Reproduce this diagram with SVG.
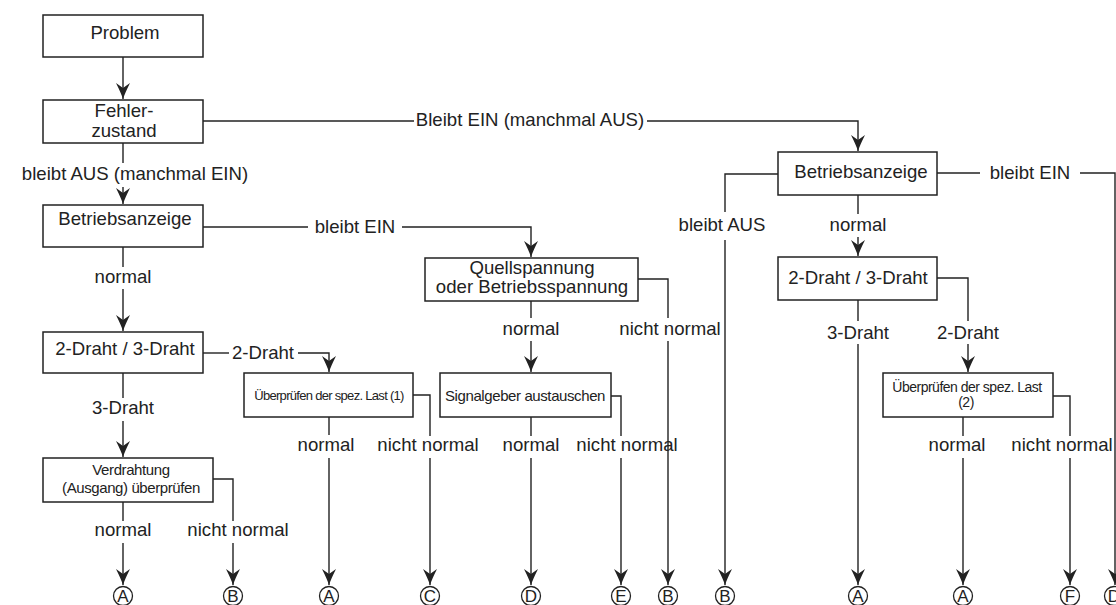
<svg xmlns="http://www.w3.org/2000/svg" width="1116" height="605" viewBox="0 0 1116 605">
<style>
.box{fill:#fff;stroke:#222;stroke-width:1.5}
.ln{fill:none;stroke:#222;stroke-width:1.4}
.t{font-family:"Liberation Sans",Arial,sans-serif;font-size:18.6px;fill:#222;text-anchor:middle}
.s{font-family:"Liberation Sans",Arial,sans-serif;font-size:15px;fill:#222;text-anchor:middle;letter-spacing:-0.4px}
.c{fill:#fff;stroke:#222;stroke-width:1.3}
.ct{font-family:"Liberation Sans",Arial,sans-serif;font-size:17px;fill:#222;text-anchor:middle}
</style>
<defs>
<marker id="ah" viewBox="-16 -7 17 14" refX="0" refY="0" markerWidth="17" markerHeight="14" markerUnits="userSpaceOnUse" orient="auto">
<path d="M0,0 Q-6,-2 -16,-7 L-11,0 L-16,7 Q-6,2 0,0Z" fill="#222"/>
</marker>
</defs>
<rect width="1116" height="605" fill="#fff"/>

<g id="connectors">
<path class="ln" d="M123,57 V99" marker-end="url(#ah)"/>
<path class="ln" d="M123,143 V163"/>
<path class="ln" d="M123,187 V204" marker-end="url(#ah)"/>
<path class="ln" d="M203,121 H414"/>
<path class="ln" d="M647,121 H858 V151" marker-end="url(#ah)"/>
<path class="ln" d="M123,247 V267"/>
<path class="ln" d="M123,289 V331" marker-end="url(#ah)"/>
<path class="ln" d="M203,227 H308"/>
<path class="ln" d="M402,227 H531 V257" marker-end="url(#ah)"/>
<path class="ln" d="M203,353 H229"/>
<path class="ln" d="M298,353 H329 V372" marker-end="url(#ah)"/>
<path class="ln" d="M123,373 V398"/>
<path class="ln" d="M123,421 V457" marker-end="url(#ah)"/>
<path class="ln" d="M123,502 V521"/>
<path class="ln" d="M123,543 V585" marker-end="url(#ah)"/>
<path class="ln" d="M213,479 H233 V521"/>
<path class="ln" d="M233,543 V585" marker-end="url(#ah)"/>
<path class="ln" d="M329,417 V435"/>
<path class="ln" d="M329,458 V585" marker-end="url(#ah)"/>
<path class="ln" d="M413,395 H430 V436"/>
<path class="ln" d="M430,458 V585" marker-end="url(#ah)"/>
<path class="ln" d="M531,301 V318"/>
<path class="ln" d="M531,341 V372" marker-end="url(#ah)"/>
<path class="ln" d="M638,279 H668 V318"/>
<path class="ln" d="M668,341 V585" marker-end="url(#ah)"/>
<path class="ln" d="M531,417 V436"/>
<path class="ln" d="M531,458 V585" marker-end="url(#ah)"/>
<path class="ln" d="M611,396 H621 V436"/>
<path class="ln" d="M621,458 V585" marker-end="url(#ah)"/>
<path class="ln" d="M778,174 H725 V212"/>
<path class="ln" d="M725,240 V585" marker-end="url(#ah)"/>
<path class="ln" d="M858,195 V214"/>
<path class="ln" d="M858,237 V256" marker-end="url(#ah)"/>
<path class="ln" d="M937,173 H980"/>
<path class="ln" d="M1080,173 H1115 V585" marker-end="url(#ah)"/>
<path class="ln" d="M858,300 V321"/>
<path class="ln" d="M858,344 V585" marker-end="url(#ah)"/>
<path class="ln" d="M937,278 H968 V321"/>
<path class="ln" d="M968,344 V372" marker-end="url(#ah)"/>
<path class="ln" d="M963,417 V436"/>
<path class="ln" d="M963,458 V585" marker-end="url(#ah)"/>
<path class="ln" d="M1053,396 H1070 V436"/>
<path class="ln" d="M1070,458 V585" marker-end="url(#ah)"/>
</g>

<g id="labels">
<text class="t" x="135" y="180">bleibt AUS (manchmal EIN)</text>
<text class="t" x="530" y="126">Bleibt EIN (manchmal AUS)</text>
<text class="t" x="123" y="283">normal</text>
<text class="t" x="355" y="233">bleibt EIN</text>
<text class="t" x="263" y="359">2-Draht</text>
<text class="t" x="123" y="414">3-Draht</text>
<text class="t" x="123" y="536">normal</text>
<text class="t" x="238" y="536">nicht normal</text>
<text class="t" x="326" y="451">normal</text>
<text class="t" x="428" y="451">nicht normal</text>
<text class="t" x="531" y="335">normal</text>
<text class="t" x="670" y="335">nicht normal</text>
<text class="t" x="531" y="451">normal</text>
<text class="t" x="627" y="451">nicht normal</text>
<text class="t" x="722" y="231">bleibt AUS</text>
<text class="t" x="858" y="231">normal</text>
<text class="t" x="1030" y="179">bleibt EIN</text>
<text class="t" x="858" y="339">3-Draht</text>
<text class="t" x="968" y="339">2-Draht</text>
<text class="t" x="957" y="451">normal</text>
<text class="t" x="1062" y="451">nicht normal</text>
</g>

<g id="n-problem"><rect class="box" x="43" y="15" width="160" height="42"/><text class="t" x="125" y="39">Problem</text></g>
<g id="n-fehler"><rect class="box" x="43" y="100" width="160" height="43"/><text class="t" x="124" y="117">Fehler-</text><text class="t" x="124" y="136.5">zustand</text></g>
<g id="n-betrieb1"><rect class="box" x="43" y="205" width="160" height="42"/><text class="t" x="125" y="225">Betriebsanzeige</text></g>
<g id="n-draht1"><rect class="box" x="43" y="332" width="160" height="41"/><text class="t" x="125" y="355">2-Draht / 3-Draht</text></g>
<g id="n-verdrahtung"><rect class="box" x="43" y="458" width="170" height="44"/><text class="s" x="131" y="475">Verdrahtung</text><text class="s" x="131" y="493">(Ausgang) überprüfen</text></g>
<g id="n-last1"><rect class="box" x="244" y="373" width="169" height="44"/><text class="s" x="329" y="400" style="font-size:13px;letter-spacing:-0.7px">Überprüfen der spez. Last (1)</text></g>
<g id="n-quell"><rect class="box" x="425" y="258" width="213" height="43"/><text class="t" x="532" y="274">Quellspannung</text><text class="t" x="532" y="293">oder Betriebsspannung</text></g>
<g id="n-signal"><rect class="box" x="440" y="373" width="171" height="44"/><text class="s" x="525" y="401">Signalgeber austauschen</text></g>
<g id="n-betrieb2"><rect class="box" x="778" y="152" width="159" height="43"/><text class="t" x="861" y="178">Betriebsanzeige</text></g>
<g id="n-draht2"><rect class="box" x="778" y="257" width="159" height="43"/><text class="t" x="858" y="284">2-Draht / 3-Draht</text></g>
<g id="n-last2"><rect class="box" x="883" y="373" width="170" height="44"/><text class="s" x="967" y="392" style="font-size:14px;letter-spacing:-0.5px">Überprüfen der spez. Last</text><text class="s" x="966" y="407" style="font-size:14px;letter-spacing:-0.5px">(2)</text></g>

<g id="terminals">
<g id="e1"><circle class="c" cx="123" cy="596" r="9.5"/><text class="ct" x="123" y="602">A</text></g>
<g id="e2"><circle class="c" cx="233" cy="596" r="9.5"/><text class="ct" x="233" y="602">B</text></g>
<g id="e3"><circle class="c" cx="329" cy="596" r="9.5"/><text class="ct" x="329" y="602">A</text></g>
<g id="e4"><circle class="c" cx="430" cy="596" r="9.5"/><text class="ct" x="430" y="602">C</text></g>
<g id="e5"><circle class="c" cx="531" cy="596" r="9.5"/><text class="ct" x="531" y="602">D</text></g>
<g id="e6"><circle class="c" cx="621" cy="596" r="9.5"/><text class="ct" x="621" y="602">E</text></g>
<g id="e7"><circle class="c" cx="668" cy="596" r="9.5"/><text class="ct" x="668" y="602">B</text></g>
<g id="e8"><circle class="c" cx="725" cy="596" r="9.5"/><text class="ct" x="725" y="602">B</text></g>
<g id="e9"><circle class="c" cx="858" cy="596" r="9.5"/><text class="ct" x="858" y="602">A</text></g>
<g id="e10"><circle class="c" cx="963" cy="596" r="9.5"/><text class="ct" x="963" y="602">A</text></g>
<g id="e11"><circle class="c" cx="1070" cy="596" r="9.5"/><text class="ct" x="1070" y="602">F</text></g>
<g id="e12"><circle class="c" cx="1114" cy="596" r="9.5"/><text class="ct" x="1114" y="602">D</text></g>
</g>
</svg>
